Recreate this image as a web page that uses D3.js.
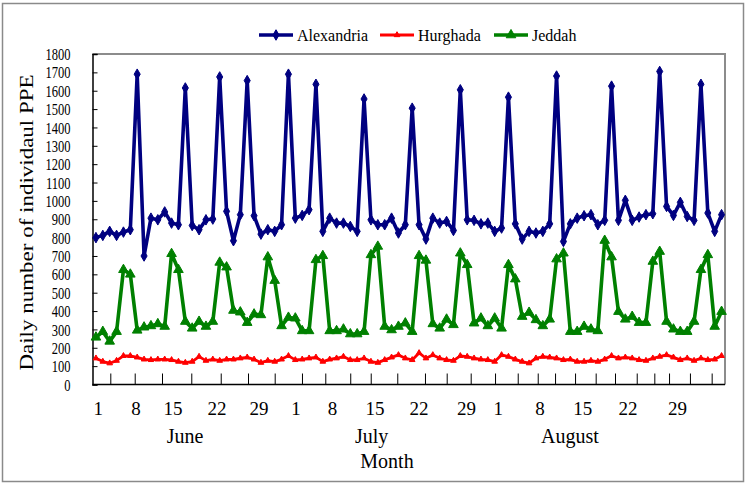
<!DOCTYPE html>
<html><head><meta charset="utf-8">
<script src="https://cdn.jsdelivr.net/npm/d3@7"></script>
<style>html,body{margin:0;padding:0;background:#fff;}svg{display:block;font-family:"Liberation Serif","Times New Roman",serif;}</style>
</head><body><svg id="c" width="747" height="484"></svg>
<script>
// ---- data ----
const seriesNames = ["Alexandria", "Hurghada", "Jeddah"];
const alexandria = [800,812,834,812,830,843,1690,700,906,897,940,879,870,1615,866,843,897,901,1675,943,783,925,1655,919,819,843,834,870,1690,906,921,952,1635,834,906,879,879,861,834,1555,897,870,870,906,825,870,1505,870,792,906,879,888,839,1605,897,894,875,879,834,852,1565,875,792,834,825,834,875,1680,779,875,906,919,925,870,894,1625,894,1003,894,912,925,930,1705,970,921,992,915,894,1635,934,834,925];
const hurghada = [143,125,116,130,156,156,148,137,134,137,137,134,125,119,125,152,130,137,130,137,137,143,148,137,119,130,125,137,156,134,137,143,148,125,137,143,152,134,134,143,125,119,134,148,161,143,134,172,143,161,143,134,130,156,152,143,137,134,125,161,152,137,125,116,143,152,148,143,134,137,125,125,130,125,137,156,143,148,143,134,130,143,152,161,148,134,143,130,143,134,137,156];
const jeddah = [257,288,235,288,625,600,295,312,319,330,316,712,625,343,306,343,316,343,665,639,403,394,337,383,379,694,566,319,365,361,292,292,679,701,292,292,301,275,275,288,706,752,316,297,316,334,288,701,676,330,306,355,325,715,652,334,361,319,361,306,652,574,370,392,352,319,355,683,715,288,288,316,301,292,784,694,397,355,370,337,337,670,724,343,301,288,288,343,625,706,316,397];
const yTicks = d3.range(0, 1801, 100);
const xTickDays = [3.09,6.64,10.61,14.87,19.15,23.12,27.0,30.97,34.36,37.99,40.97,44.83,48.86,52.02,55.51,59.05,62.35,65.26,67.78,70.69,73.69,76.5,79.66,82.22,84.36,87.4,90.56];
const xTickLabels = ["1","8","15","22","29","1","8","15","22","29","1","8","15","22","29"];
const xTickLabelDays = [1.34,6.83,12.2,18.6,24.7,30.1,35.4,41.6,48.0,54.9,59.5,65.6,71.8,78.4,85.6];
const months = ["June","July","August"];
const monthDays = [13.95,41.1,69.95];
const yTitle = "Daily number of individaul PPE";
const xTitle = "Month";

// ---- layout ----
const svg = d3.select("#c");
const L = 92.5, R = 725, T = 54, B = 384.5;
const x = d3.scaleLinear().domain([0.5, 92.5]).range([L, R]);
const y = d3.scaleLinear().domain([0, 1800]).range([B, T]);
const colors = {Alexandria:"#000080", Hurghada:"#ff0000", Jeddah:"#008000"};
const symbols = {Alexandria:d3.symbolDiamond, Hurghada:d3.symbolTriangle, Jeddah:d3.symbolTriangle};
const symSize = {Alexandria:32, Hurghada:14, Jeddah:40};
const widths = {Alexandria:3.6, Hurghada:2.8, Jeddah:3.6};
const data = {Alexandria:alexandria, Hurghada:hurghada, Jeddah:jeddah};

svg.append("rect").attr("x",0).attr("y",0).attr("width",747).attr("height",484).attr("fill","#fff");
svg.append("rect").attr("x",2.5).attr("y",3.5).attr("width",741).attr("height",478)
  .attr("fill","none").attr("stroke","#8a8a8a").attr("stroke-width",1.5);

// plot frame: top/right gray
svg.append("path").attr("d",`M${L},${T}H${R}V${B}`).attr("fill","none").attr("stroke","#8c8c8c").attr("stroke-width",2);

// y axis
const yAxis = d3.axisLeft(y).tickValues(yTicks).tickSize(-5).tickPadding(0).tickFormat(d3.format("d"));
const gy = svg.append("g").attr("transform",`translate(${L},0)`).call(yAxis);
gy.select(".domain").attr("stroke","#000").attr("stroke-width",1.5);
gy.selectAll(".tick line").attr("stroke","#000").attr("stroke-width",1);
gy.selectAll(".tick text").attr("font-size",16.5).attr("fill","#000")
  .attr("font-family","Liberation Serif").attr("dy","0.34em")
  .attr("x",(-22)/0.76).attr("transform","scale(0.76,1)");

// x axis
const xAxis = d3.axisBottom(x).tickValues(xTickDays).tickSize(-11).tickFormat("");
const gx = svg.append("g").attr("transform",`translate(0,${B})`).call(xAxis);
gx.select(".domain").attr("d",`M${L},0H${R}`).attr("stroke","#000").attr("stroke-width",1.5);
gx.selectAll(".tick line").attr("stroke","#000").attr("stroke-width",1);

svg.append("g").selectAll("text").data(xTickLabels).join("text")
  .attr("x",(d,i)=>x(xTickLabelDays[i])).attr("y",415)
  .attr("text-anchor","middle").attr("font-size",19).text(d=>d);

svg.append("g").selectAll("text").data(months).join("text")
  .attr("x",(d,i)=>x(monthDays[i])).attr("y",443)
  .attr("text-anchor","middle").attr("font-size",20).text(d=>d);

svg.append("text").attr("x",387).attr("y",468).attr("text-anchor","middle").attr("font-size",20).text(xTitle);

svg.append("text").attr("transform",`translate(33,${(72+373)/2}) scale(0.85,1) rotate(-90)`)
  .attr("text-anchor","middle").attr("font-size",23).text(yTitle);

// series
const line = d3.line().x((d,i)=>x(i+1)).y(d=>y(d));
seriesNames.forEach(name=>{
  const g = svg.append("g");
  g.append("path").datum(data[name]).attr("d",line).attr("fill","none")
    .attr("stroke",colors[name]).attr("stroke-width",widths[name]).attr("stroke-linejoin","round");
  g.selectAll("path.m").data(data[name]).join("path").attr("class","m")
    .attr("transform",(d,i)=>`translate(${x(i+1)},${y(d)})`)
    .attr("d",d3.symbol().type(symbols[name]).size(symSize[name]))
    .attr("fill",colors[name]).attr("stroke",colors[name]).attr("stroke-width",1);
});

// legend
const legX = [259, 380, 494];
const lg = svg.append("g");
seriesNames.forEach((name,i)=>{
  const gx0 = legX[i];
  lg.append("line").attr("x1",gx0).attr("x2",gx0+34).attr("y1",35).attr("y2",35)
    .attr("stroke",colors[name]).attr("stroke-width",widths[name]);
  lg.append("path").attr("transform",`translate(${gx0+17},35)`)
    .attr("d",d3.symbol().type(symbols[name]).size(symSize[name]))
    .attr("fill",colors[name]).attr("stroke",colors[name]);
  lg.append("text").attr("x",gx0+38).attr("y",40.5)
    .attr("font-size",16).text(name);
});
</script></body></html>
